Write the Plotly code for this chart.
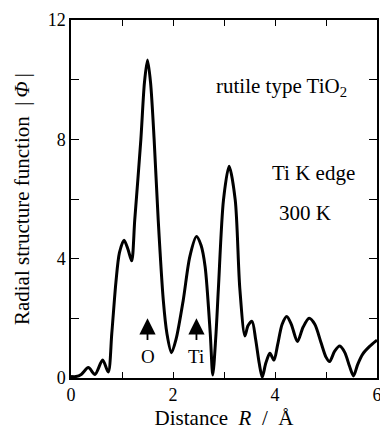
import plotly.graph_objects as go

# Radial structure function data
distance_R = [0.00, 0.10, 0.20, 0.34, 0.47, 0.62, 0.73, 0.80, 0.88, 0.95, 1.04, 1.12, 1.19,
              1.25, 1.37, 1.44, 1.50, 1.56, 1.63, 1.71, 1.81, 1.88, 1.97, 2.06, 2.20, 2.33,
              2.46, 2.55, 2.63, 2.73, 2.78, 2.84, 2.89, 2.99, 3.10, 3.22, 3.31, 3.41, 3.47,
              3.55, 3.62, 3.69, 3.75, 3.82, 3.90, 3.98, 4.05, 4.14, 4.23, 4.32, 4.44, 4.55,
              4.67, 4.78, 4.90, 5.00, 5.07, 5.17, 5.27, 5.37, 5.46, 5.54, 5.62, 5.72, 5.85, 6.00]
phi_abs = [0.05, 0.05, 0.12, 0.35, 0.12, 0.60, 0.20, 1.5, 3.2, 4.2, 4.62, 4.3, 3.93,
           5.3, 8.0, 9.9, 10.66, 9.9, 8.0, 5.3, 2.6, 1.5, 0.85, 1.3, 2.6, 4.07,
           4.74, 4.45, 3.73, 1.5, 0.1, 1.4, 3.0, 5.97, 7.1, 5.97, 3.0, 1.41, 1.75,
           1.9, 1.3, 0.5, 0.03, 0.5, 0.83, 0.6, 1.1, 1.8, 2.06, 1.8, 1.22, 1.7,
           2.0, 1.8, 1.2, 0.7, 0.55, 0.9, 1.07, 0.85, 0.4, 0.07, 0.45, 0.8, 1.05, 1.27]

x_ticks = [0, 1, 2, 3, 4, 5, 6]
x_ticktext = ["0", "", "2", "", "4", "", "6"]
y_ticks = [0, 2, 4, 6, 8, 10, 12]
y_ticktext = ["0", "", "4", "", "8", "", "12"]

arrow_labels = ["O", "Ti"]
arrow_x = [1.5, 2.46]

FONT = "Liberation Serif, Times New Roman, Times, serif"

fig = go.Figure()
fig.add_trace(go.Scatter(x=distance_R, y=phi_abs, mode="lines",
                         line=dict(color="black", width=3, shape="spline", smoothing=0.8),
                         hoverinfo="skip", showlegend=False, cliponaxis=True))

for lab, xv in zip(arrow_labels, arrow_x):
    fig.add_annotation(x=xv, y=2.0, ax=xv, ay=1.22, xref="x", yref="y", axref="x", ayref="y",
                       text="", showarrow=True, arrowhead=2, arrowsize=1.8, arrowwidth=1.8,
                       arrowcolor="black")
    fig.add_annotation(x=xv, y=0.71, xref="x", yref="y", text=lab, showarrow=False,
                       font=dict(family=FONT, size=19, color="black"),
                       xanchor="center", yanchor="middle")

fig.add_annotation(x=2.81, y=9.75, xref="x", yref="y", text="rutile type TiO<sub>2</sub>",
                   showarrow=False, xanchor="left", yanchor="middle",
                   font=dict(family=FONT, size=21, color="black"))
fig.add_annotation(x=3.90, y=6.87, xref="x", yref="y", text="Ti K edge",
                   showarrow=False, xanchor="left", yanchor="middle",
                   font=dict(family=FONT, size=21, color="black"))
fig.add_annotation(x=4.03, y=5.53, xref="x", yref="y", text="300 K",
                   showarrow=False, xanchor="left", yanchor="middle",
                   font=dict(family=FONT, size=21, color="black"))

axis_common = dict(showgrid=False, zeroline=False, showline=True, linecolor="black",
                   linewidth=1.5, mirror="ticks", ticks="inside", tickcolor="black",
                   tickwidth=1.2, tickfont=dict(family=FONT, size=18, color="black"),
                   automargin=False, ticklabeloverflow="allow")

fig.update_xaxes(range=[0, 6], tickvals=x_ticks, ticktext=x_ticktext, ticklen=6,
                 title=dict(text="Distance  <i>R</i>  /  Å", font=dict(family=FONT, size=21, color="black"),
                            standoff=6),
                 **axis_common)
fig.update_yaxes(range=[0, 12], tickvals=y_ticks, ticktext=y_ticktext, ticklen=8,
                 title=dict(text="Radial structure function  |\u2009<i>Φ</i>\u2009|",
                            font=dict(family=FONT, size=21, color="black"), standoff=12),
                 **axis_common)

fig.update_layout(width=380, height=440, margin=dict(l=71, r=3, t=20, b=62),
                  plot_bgcolor="white", paper_bgcolor="white",
                  font=dict(family=FONT, color="black"))

fig.write_html("out.html", config={"displayModeBar": False},
               post_script="document.body.style.margin='0px';document.body.style.padding='0px';")
